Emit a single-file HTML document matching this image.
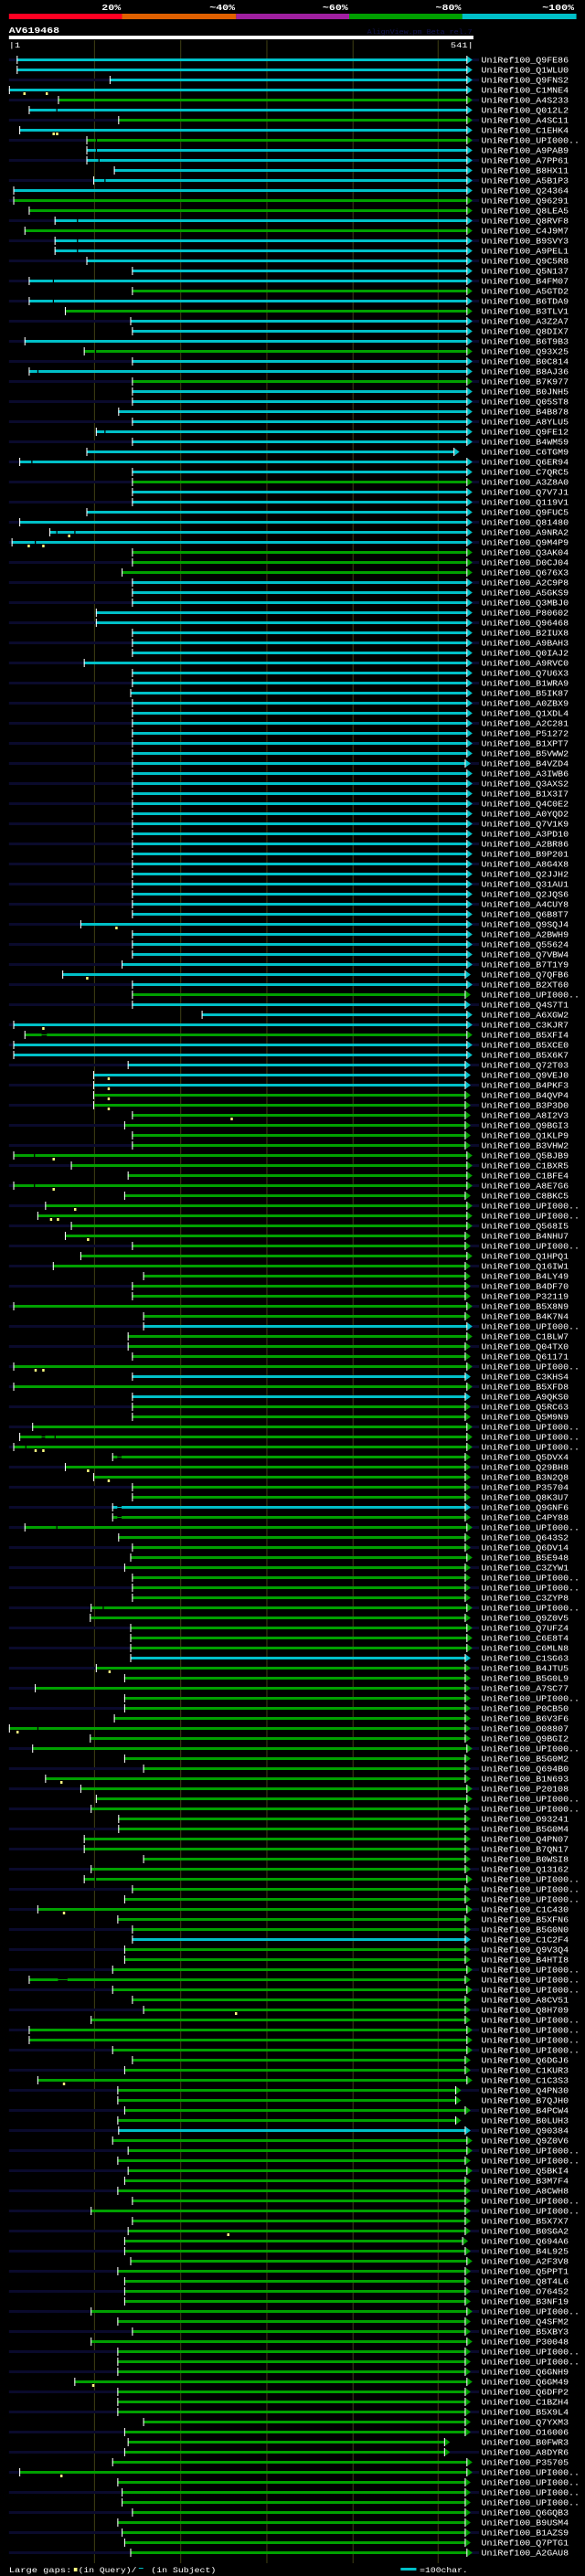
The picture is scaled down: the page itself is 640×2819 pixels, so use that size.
<!DOCTYPE html>
<html><head><meta charset="utf-8"><title>AV619468 alignment view</title>
<style>
html,body{margin:0;padding:0;background:#000;}
body{width:640px;height:2819px;overflow:hidden;}
svg{display:block;}
</style></head>
<body>
<svg id="chart" width="640" height="2819" viewBox="0 0 522.7 2819" preserveAspectRatio="none" xmlns="http://www.w3.org/2000/svg" font-family="'Liberation Mono', monospace">
<rect x="0" y="0" width="522.7" height="2819" fill="#000"/>
<g>
<rect x="8" y="15" width="101" height="6" fill="#ff0022"/>
<rect x="109" y="15" width="102" height="6" fill="#e06000"/>
<rect x="211" y="15" width="101" height="6" fill="#a020a0"/>
<rect x="312" y="15" width="101" height="6" fill="#00a000"/>
<rect x="413" y="15" width="102" height="6" fill="#00c0c8"/>
<text x="108" y="11" fill="#fff" font-size="9.5" font-weight="bold" text-anchor="end">20%</text>
<text x="210" y="11" fill="#fff" font-size="9.5" font-weight="bold" text-anchor="end">~40%</text>
<text x="311" y="11" fill="#fff" font-size="9.5" font-weight="bold" text-anchor="end">~60%</text>
<text x="412" y="11" fill="#fff" font-size="9.5" font-weight="bold" text-anchor="end">~80%</text>
<text x="513" y="11" fill="#fff" font-size="9.5" font-weight="bold" text-anchor="end">~100%</text>
</g>
<text x="8" y="36" fill="#fff" font-size="9.4" font-weight="bold">AV619468</text>
<text x="328" y="37" fill="#141450" font-size="7.2" textLength="94" lengthAdjust="spacingAndGlyphs">AlignView.pm Beta rel.7</text>
<rect x="8" y="39" width="415" height="4" fill="#fff"/>
<text x="8" y="52" fill="#fff" font-size="8.5">|1</text>
<text x="423" y="52" fill="#fff" font-size="8.5" text-anchor="end">541|</text>
<g id="grid"></g>
<g id="rows"></g>
<g>
<text x="8" y="2815" fill="#fff" font-size="8" textLength="56" lengthAdjust="spacingAndGlyphs">Large gaps:</text>
<rect x="66" y="2810" width="3" height="4" fill="#ffff80"/>
<text x="70" y="2815" fill="#fff" font-size="8" textLength="52" lengthAdjust="spacingAndGlyphs">(in Query)/</text>
<rect x="124" y="2810" width="4" height="1" fill="#00c0c8"/>
<text x="135" y="2815" fill="#fff" font-size="8" textLength="58" lengthAdjust="spacingAndGlyphs">(in Subject)</text>
<rect x="358" y="2810" width="14" height="3" fill="#00c0c8"/>
<text x="375" y="2815" fill="#fff" font-size="8" textLength="43" lengthAdjust="spacingAndGlyphs">=100char.</text>
</g>
</svg>
<script>
const names = ["Q9FE86","Q1WLU0","Q9FNS2","C1MNE4","A4S233","Q012L2","A4SC11","C1EHK4","UPI000..","A9PAB9","A7PP61","B8HX11","A5B1P3","Q24364","Q96291","Q8LEA5","Q8RVF8","C4J9M7","B9SVY3","A9PEL1","Q9C5R8","Q5N137","B4FM07","A5GTD2","B6TDA9",
"B3TLV1","A3Z2A7","Q8DIX7","B6T9B3","Q93X25","B0C814","B8AJ36","B7K977","B0JNH5","Q05ST8","B4B878","A8YLU5","Q9FE12","B4WM59","C6TGM9","Q6ER94","C7QRC5","A3Z8A0","Q7V7J1","Q119V1","Q9FUC5","Q81480","A9NRA2","Q9M4P9","Q3AK04",
"D0CJ04","Q676X3","A2C9P8","A5GKS9","Q3MBJ0","P80602","Q96468","B2IUX8","A9BAH3","Q0IAJ2","A9RVC0","Q7U6X3","B1WRA9","B5IK87","A0ZBX9","Q1XDL4","A2C281","P51272","B1XPT7","B5VWW2","B4VZD4","A3IWB6","Q3AXS2","B1X3I7","Q4C0E2",
"A0YQD2","Q7V1K9","A3PD10","A2BR86","B9P201","A8G4X8","Q2JJH2","Q31AU1","Q2JQS6","A4CUY8","Q6B8T7","Q9SQJ4","A2BWH9","Q55624","Q7VBW4","B7T1Y9","Q7QFB6","B2XT60","UPI000..","Q4S7T1","A6XGW2","C3KJR7","B5XFI4","B5XCE0","B5X6K7",
"Q72T03","Q9VEJ0","B4PKF3","B4QVP4","B3P3D0","A8I2V3","Q9BGI3","Q1KLP9","B3VHW2","Q5BJB9","C1BXR5","C1BFE4","A8E7G6","C8BKC5","UPI000..","UPI000..","Q568I5","B4NHU7","UPI000..","Q1HPQ1","Q16IW1","B4LY49","B4DF70","P32119","B5X8N9",
"B4K7N4","UPI000..","C1BLW7","Q04TX0","Q61171","UPI000..","C3KHS4","B5XFD8","A9QKS0","Q5RC63","Q5M9N9","UPI000..","UPI000..","UPI000..","Q5DVX4","Q29BH8","B3N2Q8","P35704","Q8K3U7","Q9GNF6","C4PY88","UPI000..","Q643S2","Q6DV14","B5E948",
"C3ZYW1","UPI000..","UPI000..","C3ZYP8","UPI000..","Q9Z0V5","Q7UFZ4","C6E8T4","C6MLN8","C1SG63","B4JTU5","B5G0L9","A7SC77","UPI000..","P0CB50","B6V3F6","O08807","Q9BGI2","UPI000..","B5G0M2","Q694B0","B1N693","P20108","UPI000..","UPI000..",
"O93241","B5G0M4","Q4PN07","B7QN17","B0WSI8","Q13162","UPI000..","UPI000..","UPI000..","C1C430","B5XFN6","B5G0N0","C1C2F4","Q9V3Q4","B4HTI8","UPI000..","UPI000..","UPI000..","A8CV51","Q8H709","UPI000..","UPI000..","UPI000..","UPI000..","Q6DGJ6",
"C1KUR3","C1C3S3","Q4PN30","B7QJH0","B4PCW4","B0LUH3","Q90384","Q9Z0V6","UPI000..","UPI000..","Q5BKI4","B3M7F4","A8CWH8","UPI000..","UPI000..","B5X7X7","B0SGA2","Q694A6","B4L925","A2F3V8","Q5PPT1","Q8T4L6","O76452","B3NF19","UPI000..",
"Q4SFM2","B5XBY3","P30048","UPI000..","UPI000..","Q6GNH9","Q6GM49","Q6DFP2","C1BZH4","B5X9L4","Q7YXM3","O16006","B0FWR3","A8DYR6","P35705","UPI000..","UPI000..","UPI000..","UPI000..","Q6GQB3","B9USM4","B1AZS9","Q7PTG1","A2GAU8"];
const starts = [10,10,118,1,58,24,128,13,91,91,91,123,99,6,6,24,54,19,54,54,91,144,24,144,24,
66,142,144,19,88,144,24,144,144,144,128,144,102,144,91,13,144,144,144,144,91,13,48,4,144,
144,132,144,144,144,102,102,144,144,144,88,144,144,142,144,144,144,144,144,144,144,144,144,144,144,
144,144,144,144,144,144,144,144,144,144,144,84,144,144,144,132,63,144,144,144,225,6,19,6,6,
139,99,99,99,99,144,135,144,144,6,73,139,6,135,43,34,73,66,144,84,52,157,144,144,6,
157,157,139,139,144,6,144,6,144,144,144,28,13,6,121,66,99,144,144,121,121,19,128,144,142,
135,144,144,144,96,95,142,142,142,142,102,135,31,135,135,123,1,95,28,135,157,43,84,102,96,
128,128,88,88,157,96,88,144,135,34,127,144,144,135,135,121,24,121,144,157,96,24,24,121,144,
135,34,127,127,135,127,128,121,139,127,139,135,127,144,96,144,139,135,135,142,127,135,135,135,96,
127,144,96,127,127,127,77,127,127,127,157,135,139,135,121,13,127,132,132,144,127,132,135,142];
const ends = [534,534,534,534,534,534,534,534,534,534,534,534,534,534,534,534,534,534,534,534,534,534,534,534,534,
534,534,534,534,534,534,534,534,534,534,534,534,534,534,519,534,534,534,534,534,534,534,534,534,534,
534,534,534,534,534,534,534,534,534,534,534,534,534,534,534,534,534,534,534,534,532,534,534,534,534,
534,534,534,534,534,534,534,534,534,534,534,534,534,534,534,534,532,534,532,532,534,534,534,534,534,
532,532,532,532,532,532,532,532,532,534,534,534,534,532,534,534,534,532,532,534,532,532,532,532,534,
532,534,534,532,532,534,532,534,532,532,532,534,534,534,532,532,532,532,532,532,532,534,532,532,534,
532,532,532,532,534,532,534,534,534,532,532,532,532,532,532,532,532,532,534,532,532,532,534,534,532,
532,532,532,532,532,532,534,532,532,534,532,532,532,532,532,534,532,534,532,532,532,534,534,534,532,
532,534,521,521,532,521,532,534,534,532,534,532,532,532,532,532,532,529,532,534,532,532,532,532,534,
532,532,534,532,532,532,534,532,532,532,532,532,508,508,534,534,532,532,532,532,532,532,532,534];
const colors = "ccccgcgcgcccccggcgcccccgcgcccgccgcccccccccgccccccgggcccccccccccccccccccccccccccccccccccccccccgcccgcccccgggggggggggggggggggggggcggggcgcggggggggggcggggggggggggggcgggggggggggggggggggggggggggcggggggggggggggggggcggggggggggggggggggggggggggggggggggggggggggggggggggggggg";
const gaps = [[5,56,57],[8,102,103],[9,102,103],[10,105,106],[12,112,113],[16,80,81],[18,80,81],[19,80,81],[22,52,53],[24,52,53],[29,101,102],[31,34,35],[37,112,113],[40,27,28],[47,56,57],[47,77,78],[48,31,32],[97,39,45],[109,30,31],[112,30,31],[137,39,43],[137,54,55],[138,20,21],[139,127,132],[144,127,132],[145,127,132],[146,56,57],[154,110,111],[166,34,35],[181,101,102],[191,58,69]];
const markers = [[3,19],[3,45],[7,53],[7,57],[47,71],[48,24],[48,41],[86,126],[91,92],[96,41],[101,117],[102,117],[103,117],[104,117],[105,260],[109,53],[112,53],[114,78],[115,50],[115,58],[117,93],[130,32],[130,41],[138,32],[138,41],[140,93],[141,117],[160,118],[166,11],[171,62],[184,65],[194,265],[201,65],[216,256],[231,99],[240,62]];
const gridTicks = [100,200,300,400,500];

const NS = "http://www.w3.org/2000/svg";
function xq(q){ return 8 + (q - 1) * 0.7685; }
function yr(i){ return 65 + i * 11; }
function mk(tag, attrs){ const e = document.createElementNS(NS, tag); for (const k in attrs) e.setAttribute(k, attrs[k]); return e; }

const grid = document.getElementById('grid');
gridTicks.forEach(function(t){
  const l = mk('rect', {x: Math.round(xq(t)), y: 44, width: 0.9, height: 2761, fill: '#3a3a12'});
  
  
  grid.appendChild(l);
});

const rowsG = document.getElementById('rows');
const COL = {c: '#00c0c8', g: '#00a000'};
names.forEach(function(nm, i){
  const y = yr(i);
  const g = mk('g', {});
  
  
  if (i % 2 === 0) {
    const tr = mk('rect', {x: 8, y: y - 1, width: 420, height: 3, fill: '#0a0a2c'});
    
    
    g.appendChild(tr);
  }
  const col = COL[colors[i]] || COL.g;
  const x0 = xq(starts[i]), x1 = xq(ends[i]);
  const bar = mk('rect', {x: x0, y: y - 1, width: Math.max(0, x1 - x0), height: 3, fill: col});
  
  
  g.appendChild(bar);
  const arrow = mk('polygon', {points: x1 + ',' + (y - 3.5) + ' ' + (x1 + 4.5) + ',' + (y + 0.5) + ' ' + x1 + ',' + (y + 4.5), fill: col});
  
  
  g.appendChild(arrow);
  const t0 = mk('rect', {x: x0, y: y - 4, width: 0.85, height: 9, fill: '#fff'});
  
  
  g.appendChild(t0);
  const t1 = mk('rect', {x: x1 - 0.85, y: y - 4, width: 0.85, height: 9, fill: '#fff'});
  
  
  g.appendChild(t1);
  const lab = mk('text', {x: 430, y: y + 3.5, fill: '#fff', 'font-size': 9, textLength: (('UniRef100_' + nm).length * 4.88).toFixed(1), lengthAdjust: 'spacingAndGlyphs'});
  lab.textContent = 'UniRef100_' + nm;
  
  
  g.appendChild(lab);
  rowsG.appendChild(g);
});

gaps.forEach(function(gp){
  const y = yr(gp[0]);
  const a = xq(gp[1]), b = xq(gp[2]);
  const cut = mk('rect', {x: a, y: y - 1, width: Math.max(1, b - a), height: 3, fill: '#000'});
  
  
  rowsG.appendChild(cut);
  if (b - a > 2) {
    const thin = mk('rect', {x: a, y: y, width: b - a, height: 1, fill: COL[colors[gp[0]]]});
    
    
    rowsG.appendChild(thin);
  }
});

markers.forEach(function(m){
  const y = yr(m[0]);
  const x = xq(m[1]);
  const s = mk('rect', {x: x - 1, y: y + 3, width: 2, height: 3, fill: '#ffff80'});
  
  
  rowsG.appendChild(s);
});
</script>
</body></html>
